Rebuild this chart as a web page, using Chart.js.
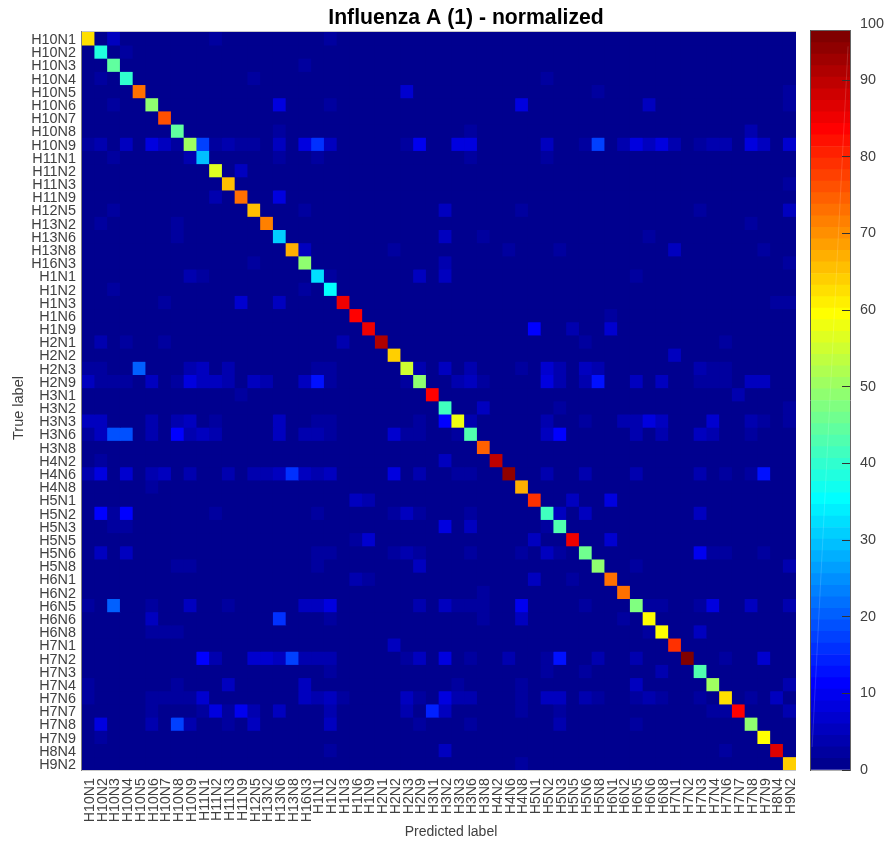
<!DOCTYPE html>
<html><head><meta charset="utf-8">
<style>html,body{margin:0;padding:0;background:#fff;width:884px;height:844px;overflow:hidden}
canvas{position:absolute;top:0;display:block}</style>
<script src="https://cdn.jsdelivr.net/npm/chart.js@4"></script>
</head><body>
<canvas id="heat" width="884" height="844" style="left:0"></canvas>
<canvas id="bar" width="84" height="844" style="left:800px"></canvas>
<script>
const chartTitle = 'Influenza A (1) - normalized';
const xAxisTitle = 'Predicted label';
const yAxisTitle = 'True label';
const categories = ['H10N1','H10N2','H10N3','H10N4','H10N5','H10N6','H10N7','H10N8','H10N9','H11N1','H11N2','H11N3','H11N9','H12N5','H13N2','H13N6','H13N8','H16N3','H1N1','H1N2','H1N3','H1N6','H1N9','H2N1','H2N2','H2N3','H2N9','H3N1','H3N2','H3N3','H3N6','H3N8','H4N2','H4N6','H4N8','H5N1','H5N2','H5N3','H5N5','H5N6','H5N8','H6N1','H6N2','H6N5','H6N6','H6N8','H7N1','H7N2','H7N3','H7N4','H7N6','H7N7','H7N8','H7N9','H8N4','H9N2'];
const diagonalValues = [62.7,38.6,44.3,39.5,73.3,49.2,76.2,44.3,50.1,29.9,56.9,65.6,73.3,65.6,71.3,30.8,67.5,48.2,32.8,35.7,85.8,82.9,85.8,91.6,64.1,54.9,49.2,82.9,41.5,57.8,43.4,74.7,89.7,94.5,67.5,79,41.5,42.4,84.8,46.3,48.7,73.3,73.3,47.7,59.8,59.8,79,96.4,43.4,50.1,62.7,82.9,49.2,59.8,86.8,63.6];
// Off-diagonal confusions: [true row, predicted column, value]
const offDiagonalCells = [
[0,2,5],[0,10,3],[0,19,3],[1,3,3],[2,17,2.5],[3,1,2.5],[3,13,2.5],[3,36,2.5],[4,25,7],[4,40,3],[4,55,3],
[5,2,2.5],[5,15,8],[5,19,3],[5,34,8],[5,44,6],[5,55,2.5],[7,15,3],[7,30,2.5],[7,52,4],
[8,0,3],[8,1,4],[8,3,6],[8,5,9],[8,6,6],[8,7,2.5],[8,9,17],[8,10,3],[8,11,4],[8,12,3],[8,13,3],[8,15,5],[8,17,8],[8,18,16],[8,19,5],[8,25,3],[8,26,10],[8,29,8],[8,30,8],[8,36,5],[8,39,2.5],[8,40,18],[8,42,4],[8,43,9],[8,44,6],[8,45,9],[8,46,3.5],[8,48,3],[8,49,4],[8,50,4],[8,52,8],[8,53,5],[8,55,7],
[9,2,3],[9,8,4],[9,15,3],[9,18,3],[9,30,2.5],[9,36,3],[10,12,6],[11,55,3],[12,10,3.5],[12,15,8],
[13,2,2.5],[13,17,2.5],[13,28,5],[13,34,3],[13,48,3],[13,55,5],[14,1,3],[14,7,2.5],[14,52,2.5],
[15,7,2.5],[15,28,5],[15,31,3],[15,44,2.5],[16,17,5],[16,24,2.5],[16,33,2.5],[16,37,2.5],[16,46,6],[16,53,2.5],
[17,13,2.5],[17,28,4],[17,55,3],[18,8,4],[18,9,3],[18,19,3],[18,26,6],[18,28,5],[18,43,2.5],
[19,2,2.5],[19,17,3],[20,6,2.5],[20,12,7],[20,15,5],[20,54,2.5],[20,55,2.5],[21,41,2.5],[22,35,11],[22,38,4],[22,41,7],
[23,1,3.5],[23,3,3],[23,6,3],[23,20,3.5],[23,39,2.5],[23,50,2.5],[24,46,6],
[25,0,3],[25,1,3],[25,4,21],[25,8,4],[25,9,5],[25,11,3.5],[25,18,3],[25,19,3],[25,26,3.5],[25,28,5],[25,30,3.5],[25,34,3],[25,36,7.5],[25,37,4.5],[25,39,6],[25,40,3.5],[25,48,4],[25,49,3],[25,50,3],
[26,0,5],[26,1,3],[26,2,3],[26,3,3],[26,5,5],[26,7,3],[26,8,8],[26,9,6],[26,10,5],[26,11,4],[26,13,5],[26,14,3.5],[26,17,5],[26,18,13],[26,19,3],[26,25,3],[26,29,4],[26,30,6],[26,31,3],[26,36,8],[26,37,3.5],[26,39,3.5],[26,40,13],[26,43,6],[26,45,5],[26,48,3],[26,49,3],[26,50,3],[26,52,5.5],[26,53,5.5],
[27,12,3],[27,51,4],[28,31,6],[28,37,3],[28,55,2.5],
[29,0,5],[29,1,5],[29,5,3.5],[29,7,3.5],[29,8,6],[29,10,3],[29,15,5],[29,18,3],[29,19,3],[29,26,3],[29,28,12],[29,30,4],[29,36,4],[29,39,3],[29,42,4],[29,43,4],[29,44,9],[29,45,5],[29,49,7],[29,52,3.5],[29,53,3],[29,55,2.5],
[30,0,3],[30,1,5],[30,2,19],[30,3,19],[30,5,3.5],[30,7,11],[30,8,3.5],[30,9,5],[30,10,3.5],[30,15,6],[30,17,3.5],[30,18,3.5],[30,19,3],[30,24,7],[30,25,3],[30,26,3],[30,29,3],[30,36,5],[30,37,11],[30,43,4],[30,45,4],[30,48,5],[30,49,3.5],[30,52,3],
[32,1,3],[32,28,5],
[33,0,3.5],[33,1,9],[33,3,7],[33,5,3.5],[33,6,5],[33,8,4],[33,11,3.5],[33,13,4.5],[33,14,4.5],[33,15,5],[33,16,16],[33,17,5],[33,18,3.5],[33,19,6],[33,24,8],[33,26,3.5],[33,29,3],[33,30,3],[33,36,4],[33,39,4],[33,43,3.5],[33,48,3.5],[33,50,3],[33,52,3],[33,53,13],
[34,5,2.5],[35,21,5],[35,22,3.5],[35,38,5],[35,41,8],
[36,1,11],[36,2,3],[36,3,12],[36,10,3],[36,18,3],[36,24,3],[36,25,5],[36,26,3],[36,30,3],[36,37,6],[36,39,6],[36,48,5],
[37,2,2.5],[37,3,2.5],[37,28,8],[37,30,5],[37,36,3],
[38,21,3],[38,22,7],[38,35,5],[38,41,7],
[39,1,6],[39,3,5],[39,18,3],[39,19,3],[39,24,2.5],[39,25,4],[39,26,3],[39,30,3],[39,34,3],[39,36,5.5],[39,37,3],[39,48,10],[39,49,3],[39,50,3],[39,53,3],
[40,7,2.5],[40,8,2.5],[40,18,3],[40,26,5],[40,43,3],[40,55,4],
[41,21,4],[41,22,3],[41,35,6],[41,38,3],[42,31,3],
[43,0,3],[43,2,21],[43,5,3],[43,8,5],[43,11,3],[43,17,6],[43,18,5.5],[43,19,9],[43,26,3.5],[43,28,5.5],[43,29,3],[43,30,3],[43,31,2.5],[43,34,10],[43,39,3],[43,44,2.5],[43,45,2.5],[43,48,3],[43,49,8],[43,52,5],[43,55,4],
[44,5,5],[44,15,16],[44,19,3],[44,31,3],[44,34,5],[44,42,3],
[45,5,3],[45,6,3],[45,7,3],[45,44,3],[45,48,6],[46,24,5],
[47,9,12],[47,10,4],[47,13,7],[47,14,7],[47,15,6],[47,16,18],[47,17,3.5],[47,18,3.5],[47,19,4],[47,25,3],[47,26,5.5],[47,28,9],[47,30,3],[47,33,3.5],[47,36,3],[47,37,13],[47,40,3.5],[47,43,3.5],[47,50,3],[47,53,7],
[48,19,3],[48,36,3],[48,39,2.5],[48,45,4.5],
[49,0,3],[49,7,3],[49,11,5],[49,17,6],[49,29,3],[49,34,3],[49,43,5],[49,55,4],
[50,0,3],[50,5,3],[50,6,3],[50,7,3],[50,8,3],[50,9,7],[50,17,5],[50,18,4],[50,19,6],[50,20,3],[50,25,5],[50,26,3],[50,28,8],[50,29,3.5],[50,30,3.5],[50,34,3],[50,36,5],[50,37,5],[50,39,4],[50,40,3],[50,43,3],[50,44,4],[50,45,3],[50,48,2.5],[50,52,2.5],[50,54,6],
[51,5,3],[51,9,3],[51,10,8],[51,11,3],[51,12,10],[51,13,4],[51,15,6],[51,19,3.5],[51,25,3.5],[51,27,15],[51,28,5],[51,34,3],[51,37,3],[51,49,3],[51,50,3],[51,55,4],
[52,1,9],[52,5,3.5],[52,7,17],[52,8,4],[52,11,3],[52,13,6],[52,19,5],[52,26,3],[52,30,3],[52,37,3.5],[52,43,3],
[53,1,3],[54,19,3],[54,28,6],[54,50,2.5],[55,34,2.5]
];
const colorbarMax = 96.4;
const colorbarLevels = 64;
const colorbarTickValues = [0,10,20,30,40,50,60,70,80,90,97.3];
const colorbarTickLabels = ['0','10','20','30','40','50','60','70','80','90','100'];
const colorbarStreak = [{x:0.95,y:94.4},{x:0.03,y:3}];

const textFont = 'Liberation Sans, Arial, Helvetica, sans-serif';
const textColor = '#404040';

// MATLAB jet colormap with 64 levels
function jetLevel(i){ // i = 1..64
  const u = k => k<=0||k>47 ? 0 : k<=16 ? k/16 : k<=31 ? 1 : (48-k)/16;
  const ch = x => Math.round(255*x);
  return `rgb(${ch(i>=25?u(i-24):0)},${ch(i>=9&&i<=55?u(i-8):0)},${ch(i<=39?u(i+8):0)})`;
}
const colorOf = v => jetLevel(Math.min(colorbarLevels, Math.floor(v/colorbarMax*colorbarLevels)+1));

const matrix = categories.map((_,r)=>categories.map((_,c)=> r===c ? diagonalValues[r] : 0));
offDiagonalCells.forEach(([r,c,v])=>{ matrix[r][c]=v; });

const framePlugin = {
  id:'frame',
  beforeDatasetsDraw(chart,args,o){
    if(!o.fill) return;
    const {left,top,width,height} = chart.chartArea, ctx = chart.ctx;
    ctx.save(); ctx.fillStyle=o.fill; ctx.fillRect(left,top,width,height); ctx.restore();
  },
  afterDatasetsDraw(chart,args,o){
    const {left,right,top,bottom} = chart.chartArea, ctx = chart.ctx;
    ctx.save(); ctx.lineWidth = o.width||1;
    const line=(c,x1,y1,x2,y2)=>{ctx.strokeStyle=c;ctx.beginPath();ctx.moveTo(x1,y1);ctx.lineTo(x2,y2);ctx.stroke();};
    line(o.top,left,top-0.5,right,top-0.5);
    line(o.bottom,left,bottom+0.5,right,bottom+0.5);
    line(o.left,left-0.5,top-1,left-0.5,bottom+1);
    if(o.right) line(o.right,right+0.5,top-1,right+0.5,bottom+1);
    ctx.restore();
  }
};
const titleShift = {id:'titleShift',afterLayout(chart,args,o){const t=chart.titleBlock;t.left+=o.dx;t.right+=o.dx;}};
// Nudges an axis title off the axis centre, as in the reference.
function nudgeAxisTitle(scale,dx,dy){
  if(scale._nudged) return; scale._nudged=true;
  const draw=scale.drawTitle;
  scale.drawTitle=function(){const c=this.ctx;c.save();c.translate(dx,dy);draw.call(this);c.restore();};
}

new Chart(document.getElementById('heat'),{
  type:'bar',
  data:{labels:categories,datasets:categories.map((name,r)=>({
    label:name,
    data:categories.map(()=>[r,r+1]),
    backgroundColor:matrix[r].map(colorOf),
    borderWidth:0,grouped:false,barPercentage:1,categoryPercentage:1
  }))},
  plugins:[framePlugin,titleShift],
  options:{
    responsive:false,animation:false,events:[],
    layout:{padding:{left:0,right:88,top:0,bottom:0}},
    plugins:{
      legend:{display:false},tooltip:{enabled:false},
      frame:{fill:jetLevel(1),top:'#c8c8c8',bottom:'#c8c8c8',left:'#808080'},
      titleShift:{dx:68},
      title:{display:true,text:chartTitle,color:'#000',padding:{top:8,bottom:2.8},
        font:{family:textFont,size:21.2,weight:'bold',lineHeight:1}}
    },
    scales:{
      x:{type:'category',position:'bottom',offset:true,
        grid:{display:false,drawTicks:false},border:{display:false},
        afterBuildTicks(s){s.ticks=categories.map((_,i)=>({value:i+0.12}));},
        ticks:{autoSkip:false,maxRotation:90,minRotation:90,padding:8,color:textColor,font:{family:textFont,size:14.2},
          callback:(v,i)=>categories[i]},
        title:{display:true,text:xAxisTitle,color:textColor,font:{family:textFont,size:14},padding:{top:0,bottom:3.6}},
        afterFit(s){s.height=74;s.paddingLeft=s.paddingRight=s.paddingTop=s.paddingBottom=0;},
        afterUpdate(s){nudgeAxisTitle(s,12,0);}
      },
      y:{type:'linear',position:'left',reverse:true,min:0,max:categories.length,
        grid:{display:false,drawTicks:false},border:{display:false},
        afterBuildTicks(s){s.ticks=categories.map((_,i)=>({value:i+0.62}));},
        ticks:{autoSkip:false,padding:6,color:textColor,font:{family:textFont,size:14.4},
          callback:(v,i)=>categories[i]},
        title:{display:true,text:yAxisTitle,color:textColor,font:{family:textFont,size:14.5},padding:{top:10,bottom:0}},
        afterFit(s){s.width=82;s.paddingLeft=s.paddingRight=s.paddingTop=s.paddingBottom=0;},
        afterUpdate(s){nudgeAxisTitle(s,0,7);}
      }
    }
  }
});

const bandStep = colorbarMax/colorbarLevels;
const bandDatasets = Array.from({length:colorbarLevels},(_,k)=>({
  type:'bar',label:'level '+(k+1),
  data:[[k*bandStep,(k+1)*bandStep]],
  backgroundColor:jetLevel(k+1),borderWidth:0,grouped:false,barPercentage:1,categoryPercentage:1,
  xAxisID:'x',yAxisID:'y',order:2
}));
new Chart(document.getElementById('bar'),{
  data:{labels:['scale'],datasets:[...bandDatasets,{
    type:'line',label:'streak',data:colorbarStreak,xAxisID:'xs',yAxisID:'y',order:1,
    borderColor:'rgba(255,255,255,0.15)',borderWidth:1,pointRadius:0,fill:false,tension:0
  }]},
  plugins:[framePlugin],
  options:{
    responsive:false,animation:false,events:[],
    layout:{padding:{left:11,right:0,top:31,bottom:74}},
    plugins:{legend:{display:false},tooltip:{enabled:false},
      frame:{top:'#666666',bottom:'#b0b0b0',left:'#555555',right:'#666666'}},
    scales:{
      x:{type:'category',display:false,offset:true},
      xs:{type:'linear',display:false,min:0,max:1},
      y:{type:'linear',position:'right',min:0,max:colorbarMax,
        grid:{drawOnChartArea:false,drawTicks:true,tickLength:-8,z:1,
          tickColor:c=>c.tick&&c.tick.value>colorbarMax?'rgba(0,0,0,0)':'#333333'},
        border:{display:false},
        afterBuildTicks(s){s.ticks=colorbarTickValues.map(v=>({value:v}));},
        ticks:{autoSkip:false,padding:18,color:textColor,font:{family:textFont,size:14.4},
          callback:(v,i)=>colorbarTickLabels[i]},
        afterFit(s){s.width=34;s.paddingLeft=s.paddingRight=s.paddingTop=s.paddingBottom=0;}
      }
    }
  }
});
</script>
</body></html>
